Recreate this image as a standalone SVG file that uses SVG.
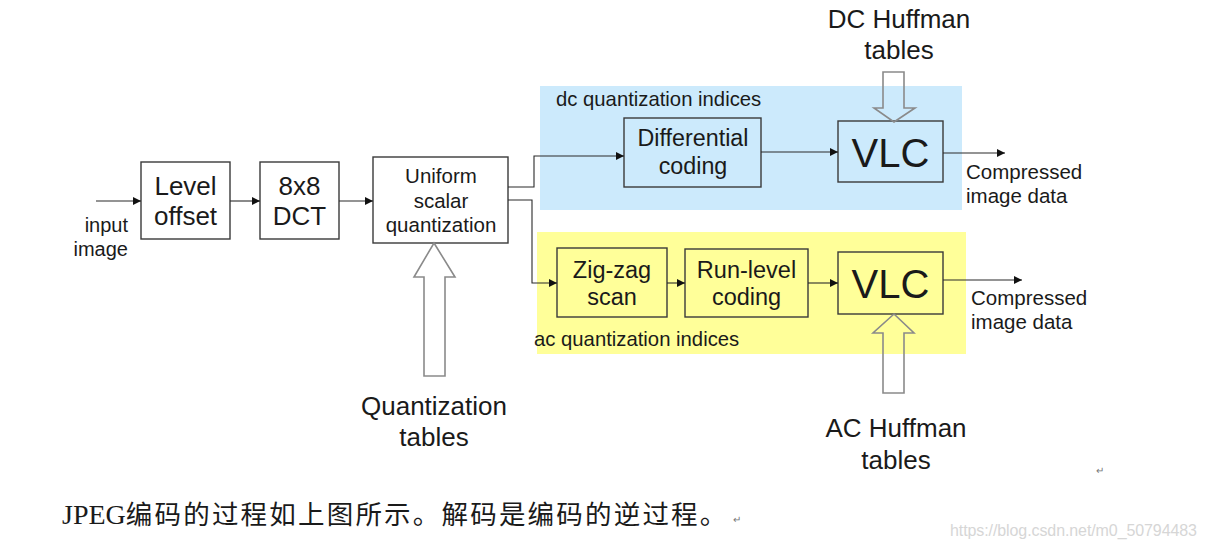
<svg xmlns="http://www.w3.org/2000/svg" width="1207" height="548" viewBox="0 0 1207 548">
<style>
text{font-family:"Liberation Sans",Arial,sans-serif;fill:#1a1a1a}
.box{fill:none;stroke:#3a3a3a;stroke-width:1.4}
.wbox{fill:#fff;stroke:#3a3a3a;stroke-width:1.4}
.ln{fill:none;stroke:#2a2a2a;stroke-width:1.1}
.hollow{fill:none;stroke:#8a8a8a;stroke-width:1.6}
.c{text-anchor:middle}
.e{text-anchor:end}
</style>
<defs>
<marker id="ah" viewBox="0 0 10 10" refX="10" refY="5" markerWidth="8" markerHeight="8" markerUnits="userSpaceOnUse" orient="auto">
<path d="M0,0 L10,5 L0,10 z" fill="#111"/>
</marker>
</defs>
<rect width="1207" height="548" fill="#fff"/>
<g id="dc-region"><rect x="540" y="86" width="422" height="124" fill="#cceafc"/>
<text x="556" y="106" font-size="20.3">dc quantization indices</text></g>
<g id="ac-region"><rect x="537" y="232" width="429" height="122" fill="#ffff99"/>
<text x="534" y="346" font-size="20.3">ac quantization indices</text></g>

<g id="input"><text class="e" x="128" y="232" font-size="20">input</text>
<text class="e" x="128" y="256" font-size="20">image</text></g>
<g id="level-offset"><rect class="wbox" x="141" y="162" width="89" height="77"/>
<text class="c" x="185.5" y="195" font-size="26">Level</text>
<text class="c" x="185.5" y="225" font-size="26">offset</text></g>
<g id="dct"><rect class="wbox" x="260" y="162" width="79" height="77"/>
<text class="c" x="299.5" y="195" font-size="26">8x8</text>
<text class="c" x="299.5" y="225" font-size="26">DCT</text></g>
<g id="quantizer"><rect class="wbox" x="373" y="157" width="135" height="86"/>
<text class="c" x="441" y="183" font-size="20.5">Uniform</text>
<text class="c" x="441" y="208" font-size="20.5">scalar</text>
<text class="c" x="441" y="232" font-size="20.5">quantization</text></g>
<g id="differential"><rect class="box" x="624" y="118" width="137" height="69"/>
<text class="c" x="693" y="146" font-size="23.3">Differential</text>
<text class="c" x="693" y="174" font-size="23.3">coding</text></g>
<g id="vlc-dc"><rect class="box" x="838" y="121" width="105" height="61"/>
<text class="c" x="890.5" y="167" font-size="40">VLC</text></g>
<g id="zigzag"><rect class="box" x="557" y="248" width="110" height="69"/>
<text class="c" x="612" y="278" font-size="23.5">Zig-zag</text>
<text class="c" x="612" y="305" font-size="23.5">scan</text></g>
<g id="runlevel"><rect class="box" x="685" y="249" width="123" height="68"/>
<text class="c" x="746.5" y="278" font-size="23.5">Run-level</text>
<text class="c" x="746.5" y="305" font-size="23.5">coding</text></g>
<g id="vlc-ac"><rect class="box" x="838" y="252" width="105" height="62"/>
<text class="c" x="890.5" y="298" font-size="40">VLC</text></g>

<g id="out-dc"><text x="966" y="179" font-size="20.5">Compressed</text>
<text x="966" y="203" font-size="20.5">image data</text></g>
<g id="out-ac"><text x="971" y="305" font-size="20.5">Compressed</text>
<text x="971" y="329" font-size="20.5">image data</text></g>

<g id="quant-tables"><path class="hollow" d="M434,243 L455,277 L445,277 L445,376 L424,376 L424,277 L414,277 Z"/>
<text class="c" x="434" y="415" font-size="26">Quantization</text>
<text class="c" x="434" y="446" font-size="26">tables</text></g>
<g id="dc-huffman"><path class="hollow" d="M894,122 L915,108 L904,108 L904,72 L883,72 L883,108 L874,108 Z"/>
<text class="c" x="899" y="28" font-size="26">DC Huffman</text>
<text class="c" x="899" y="59" font-size="26">tables</text></g>
<g id="ac-huffman"><path class="hollow" d="M894,314 L914,333 L904,333 L904,393 L883,393 L883,333 L873,333 Z"/>
<text class="c" x="896" y="437" font-size="26">AC Huffman</text>
<text class="c" x="896" y="469" font-size="26">tables</text></g>

<g id="connectors">
<line class="ln" x1="96" y1="201" x2="141" y2="201" marker-end="url(#ah)"/>
<line class="ln" x1="230" y1="201" x2="260" y2="201" marker-end="url(#ah)"/>
<line class="ln" x1="339" y1="201" x2="373" y2="201" marker-end="url(#ah)"/>
<polyline class="ln" points="508,187 534,187 534,156 624,156" marker-end="url(#ah)"/>
<polyline class="ln" points="508,200 532,200 532,283 557,283" marker-end="url(#ah)"/>
<line class="ln" x1="761" y1="152" x2="838" y2="152" marker-end="url(#ah)"/>
<line class="ln" x1="943" y1="153" x2="1005" y2="153" marker-end="url(#ah)"/>
<line class="ln" x1="667" y1="283" x2="685" y2="283" marker-end="url(#ah)"/>
<line class="ln" x1="808" y1="283" x2="838" y2="283" marker-end="url(#ah)"/>
<line class="ln" x1="943" y1="280" x2="1022" y2="280" marker-end="url(#ah)"/>
</g>

<g id="caption"><text x="62" y="524" font-size="28" style="font-family:'Liberation Serif','Noto Sans CJK SC',serif">JPEG<tspan style="font-family:'Noto Sans CJK SC',serif" font-size="26.5" letter-spacing="2.2">编码的过程如上图所示。解码是编码的逆过程。</tspan></text>
<text x="733" y="523" font-size="10" style="fill:#777">↵</text>
<text x="1096" y="474" font-size="10" style="fill:#777">↵</text>
<text x="950" y="536" font-size="16" textLength="247" style="fill:#d6d6d6">https://blog.csdn.net/m0_50794483</text></g>
</svg>
